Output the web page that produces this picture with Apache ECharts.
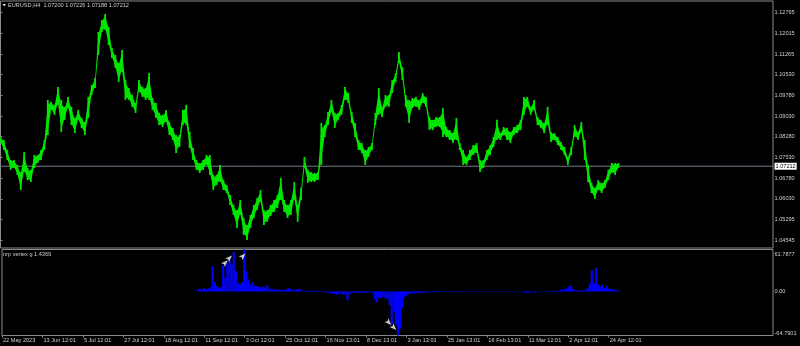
<!DOCTYPE html>
<html><head><meta charset="utf-8">
<script src="https://cdn.jsdelivr.net/npm/echarts@6/dist/echarts.min.js"></script>
<style>html,body{margin:0;padding:0;background:#000}#c{width:800px;height:346px}</style>
</head><body><div id="c"></div>
<script>
// ---------- data ----------
const symbolTitle = 'EURUSD,H4';
const ohlcText = '1.07200 1.07226 1.07188 1.07212';
const indicatorTitle = 'nrp vertex g 1.4369';
const lastPrice = 1.07212;
const priceTicks = [1.12765,1.12015,1.11265,1.10530,1.09780,1.09030,1.08280,1.07530,1.06780,1.06030,1.05295,1.04545];
const timeLabels = ['22 May 2023','13 Jun 12:01','5 Jul 12:01','27 Jul 12:01','18 Aug 12:01','11 Sep 12:01','3 Oct 12:01','25 Oct 12:01','16 Nov 13:01','8 Dec 13:01','3 Jan 13:01','25 Jan 13:01','16 Feb 13:01','11 Mar 12:01','2 Apr 12:01','24 Apr 12:01'];
const barsPerTimeLabel = 96;   // H4 bars between time labels
const priceStep = 8;           // H4 bars per sampled price column
const highs = [
1.0827,1.0816,1.0780,1.0744,1.0744,1.0726,1.0700,1.0773,1.0715,1.0708,
1.0762,1.0762,1.0780,1.0816,1.0961,1.0954,1.0943,1.1008,1.0961,1.0936,
1.0972,1.0936,1.0896,1.0925,1.0896,1.0881,1.0972,1.1015,1.1040,1.1207,
1.1250,1.1272,1.1225,1.1149,1.1124,1.1095,1.1142,1.1033,1.1004,1.0979,
1.0950,1.1033,1.1008,1.1004,1.1058,1.0968,1.0950,1.0914,1.0907,1.0925,
1.0881,1.0860,1.0834,1.0834,1.0925,1.0943,1.0845,1.0787,1.0744,1.0733,
1.0744,1.0762,1.0762,1.0690,1.0690,1.0726,1.0671,1.0653,1.0617,1.0581,
1.0563,1.0599,1.0534,1.0509,1.0545,1.0581,1.0606,1.0635,1.0563,1.0563,
1.0581,1.0599,1.0617,1.0679,1.0599,1.0581,1.0599,1.0664,1.0581,1.0643,
1.0755,1.0708,1.0700,1.0697,1.0700,1.0878,1.0870,1.0917,1.0961,1.0914,
1.0914,1.0943,1.1008,1.0986,1.0917,1.0878,1.0816,1.0805,1.0780,1.0791,
1.0805,1.0914,1.1004,1.0936,1.0979,1.0979,1.1033,1.1058,1.1134,1.1080,
1.0979,1.0961,1.0968,1.0972,1.0961,1.0986,1.0972,1.0899,1.0889,1.0899,
1.0899,1.0932,1.0863,1.0852,1.0841,1.0896,1.0805,1.0780,1.0755,1.0780,
1.0798,1.0805,1.0744,1.0744,1.0780,1.0798,1.0827,1.0889,1.0841,1.0863,
1.0860,1.0845,1.0863,1.0870,1.0889,1.0972,1.0972,1.0936,1.0961,1.0899,
1.0889,1.0878,1.0936,1.0845,1.0841,1.0827,1.0809,1.0791,1.0755,1.0791,
1.0870,1.0845,1.0881,1.0816,1.0726,1.0661,1.0643,1.0671,1.0661,1.0671,
1.0708,1.0733,1.0733,1.0733];
const lows = [
1.0805,1.0780,1.0744,1.0708,1.0715,1.0690,1.0635,1.0700,1.0671,1.0664,
1.0715,1.0733,1.0744,1.0780,1.0834,1.0925,1.0907,1.0943,1.0845,1.0889,
1.0932,1.0870,1.0841,1.0889,1.0860,1.0834,1.0896,1.0979,1.1004,1.1124,
1.1207,1.1214,1.1160,1.1113,1.1077,1.1026,1.1062,1.0961,1.0961,1.0936,
1.0914,1.0990,1.0972,1.0961,1.0961,1.0925,1.0896,1.0870,1.0863,1.0881,
1.0834,1.0816,1.0769,1.0791,1.0870,1.0870,1.0787,1.0744,1.0708,1.0697,
1.0708,1.0726,1.0690,1.0635,1.0653,1.0664,1.0635,1.0624,1.0581,1.0545,
1.0498,1.0545,1.0473,1.0454,1.0498,1.0534,1.0563,1.0592,1.0509,1.0520,
1.0541,1.0556,1.0570,1.0599,1.0556,1.0534,1.0545,1.0599,1.0520,1.0599,
1.0715,1.0661,1.0664,1.0664,1.0671,1.0726,1.0827,1.0870,1.0917,1.0860,
1.0889,1.0907,1.0961,1.0950,1.0878,1.0827,1.0780,1.0769,1.0726,1.0755,
1.0780,1.0870,1.0907,1.0899,1.0936,1.0936,1.0986,1.1026,1.1095,1.1033,
1.0936,1.0878,1.0932,1.0936,1.0925,1.0950,1.0936,1.0852,1.0852,1.0863,
1.0863,1.0827,1.0827,1.0816,1.0805,1.0816,1.0780,1.0726,1.0726,1.0744,
1.0762,1.0769,1.0700,1.0715,1.0744,1.0762,1.0791,1.0816,1.0816,1.0834,
1.0816,1.0805,1.0834,1.0841,1.0852,1.0907,1.0936,1.0907,1.0925,1.0870,
1.0860,1.0841,1.0870,1.0809,1.0816,1.0798,1.0780,1.0762,1.0726,1.0762,
1.0827,1.0816,1.0845,1.0744,1.0664,1.0624,1.0603,1.0635,1.0624,1.0643,
1.0671,1.0697,1.0690,1.0715];
const indStart = 465;   // first bar of the indicator
const indStep = 5;      // bars per indicator sample
const indValues = [
3,4,3,5,3,4,6,37,14,8,
6,6,39,20,41,46,40,58,30,12,
10,14,61.7877,30,18,10,14,8,8,7,
6,7,5,9,4,4,3,3,3,2,
2,2,3,5,4,2,2,3,4,2,
1,1,1,1,1,1,1,1,0.5,0.5,
-1,-1.5,-2,-2,-3,-4,-5,-3,-3,-5,
-4,-13,-4,-2,-2,-2,-1.5,-2,-2,-1.5,
-1.5,-1.5,-1.5,-2,-12,-16,-9,-10,-8,-10,
-11,-20,-48,-30,-50,-64.7901,-55,-25,-9,-6,
-4,-3,-3,-2.5,-2.5,-2,-2,-2,-2,-1.5,
-1,-1,-1,-1,-1,-1,-0.5,-0.5,-0.5,-0.5,
-0.5,-1,-0.5,-0.5,-0.5,-0.5,-0.5,-0.5,-1,-0.5,
-0.5,-0.5,-0.5,-0.5,-0.5,-0.5,-0.5,0.5,0.5,0.5,
0.5,0.5,0.5,0.5,-0.5,0.5,-0.5,-0.5,0.5,0.5,
-0.5,-0.5,0.5,0.5,-0.5,-1.5,-2,-2,-1,-0.5,
-2,-0.5,-0.5,0.5,0.5,0.5,0.5,1,1,1,
1,1,2,3,4,4,7,9,4,2,
1.5,1.5,1.5,1.5,3,5,12,31,12,35,
10,7,10,5,8,4,4,3,2,1.5,
1];
const indMax = 61.7877, indMin = -64.7901;
const indTickLabels = ['61.7877','0.00','-64.7901'];
const signalBars = [536,546,578,924,936];
const signalValues = [46,53,56,-49.3,-56.7];

// ---------- layout / style ----------
const TOTAL_BARS = 1830;
const PRICE_MIN = 1.04255, PRICE_MAX = 1.13188;
const FONT = '"Liberation Sans", Arial, sans-serif';
const TXT = '#cfcfcf';
const BORDER = '#8a8a8a';
const FS = 5.6;
const GREEN = '#00e600';

const priceData = highs.map((h, i) => [i * priceStep, lows[i], h]);
const indData = indValues.map((v, j) => [indStart + j * indStep, v]);
const sigData = signalBars.map((b, k) => ({
  value: [b, signalValues[k]],
  symbolRotate: signalValues[k] > 0 ? -45 : -135
}));
const timeTickVals = timeLabels.map((_, k) => k * barsPerTimeLabel);

const chart = echarts.init(document.getElementById('c'), null, {renderer: 'canvas'});
const indUnitsPerPx = (indMax - indMin) / 86;
const indLabelVals = [indMax - 4.5 * indUnitsPerPx, 0, indMin + 2.5 * indUnitsPerPx];

chart.setOption({
  backgroundColor: '#000',
  animation: false,
  title: [
    {text: symbolTitle + '  ' + ohlcText, left: 8, top: 2, padding: 0,
     textStyle: {color: TXT, fontSize: FS, fontWeight: 'normal', fontFamily: FONT}},
    {text: indicatorTitle, left: 3, top: 251.5, padding: 0,
     textStyle: {color: TXT, fontSize: FS, fontWeight: 'normal', fontFamily: FONT}}
  ],
  graphic: [
    {type: 'polygon', shape: {points: [[2.5, 4], [6, 4], [4.25, 6.5]]}, style: {fill: '#ddd'}}
  ],
  grid: [
    {left: 0.5, top: 1, width: 772.5, height: 247, show: true, borderColor: BORDER, borderWidth: 1, backgroundColor: 'transparent'},
    {left: 0.5, top: 249.5, width: 772.5, height: 86, show: true, borderColor: BORDER, borderWidth: 1, backgroundColor: 'transparent'}
  ],
  xAxis: [
    {type: 'value', gridIndex: 0, min: 0, max: TOTAL_BARS, show: false},
    {type: 'value', gridIndex: 1, min: 0, max: TOTAL_BARS, position: 'bottom',
     axisLine: {show: false, onZero: false}, splitLine: {show: false},
     axisTick: {show: true, customValues: timeTickVals, length: 2, lineStyle: {color: BORDER}},
     axisLabel: {customValues: timeTickVals, formatter: v => timeLabels[Math.round(v / barsPerTimeLabel)],
       align: 'left', margin: 2, color: TXT, fontSize: FS, fontFamily: FONT, padding: [0, 0, 0, 1]}}
  ],
  yAxis: [
    {type: 'value', gridIndex: 0, position: 'right', min: PRICE_MIN, max: PRICE_MAX,
     axisLine: {show: false}, splitLine: {show: false},
     axisTick: {show: true, customValues: priceTicks, length: 2, lineStyle: {color: BORDER}},
     axisLabel: {customValues: priceTicks, formatter: v => v.toFixed(5), margin: 1.5,
       color: TXT, fontSize: FS, fontFamily: FONT}},
    {type: 'value', gridIndex: 1, position: 'right', min: indMin, max: indMax,
     axisLine: {show: false}, splitLine: {show: false}, axisTick: {show: false},
     axisLabel: {customValues: indLabelVals, formatter: (v) => indTickLabels[indLabelVals.indexOf(v)] || '',
       margin: 1.5, color: TXT, fontSize: FS, fontFamily: FONT}}
  ],
  series: [
    {type: 'line', xAxisIndex: 0, yAxisIndex: 0, silent: true, showSymbol: false, z: 1,
     data: [[0, lastPrice], [TOTAL_BARS, lastPrice]],
     lineStyle: {color: '#6f7a88', width: 1},
     endLabel: {show: true, distance: 1.5, formatter: () => lastPrice.toFixed(5),
       color: '#000', backgroundColor: '#fff', padding: [0.5, 1], fontSize: FS, fontFamily: FONT}},
    {type: 'custom', xAxisIndex: 0, yAxisIndex: 0, data: priceData, clip: true, z: 2,
     renderItem: function (params, api) {
       const i = params.dataIndex;
       const x = api.value(0), lo = api.value(1), hi = api.value(2);
       const pHi = api.coord([x, hi]);
       const pLo = api.coord([x, lo]);
       const children = [{type: 'rect',
         shape: {x: pHi[0] - 0.9, y: pHi[1], width: 1.8, height: Math.max(1, pLo[1] - pHi[1])},
         style: {fill: GREEN}}];
       const nxt = priceData[i + 1];
       if (nxt) {
         const qHi = api.coord([nxt[0], nxt[2]]);
         const qLo = api.coord([nxt[0], nxt[1]]);
         const s = 0.12;
         children.push({type: 'polygon',
           shape: {points: [[pHi[0], pHi[1] + (pLo[1] - pHi[1]) * s], [qHi[0], qHi[1] + (qLo[1] - qHi[1]) * s],
                            [qLo[0], qLo[1] - (qLo[1] - qHi[1]) * s], [pLo[0], pLo[1] - (pLo[1] - pHi[1]) * s]]},
           style: {fill: GREEN}});
       }
       return {type: 'group', children: children};
     }
    },
    {type: 'bar', xAxisIndex: 1, yAxisIndex: 1, data: indData, barWidth: 2.2,
     itemStyle: {color: '#0000ff'}},
    {type: 'scatter', xAxisIndex: 1, yAxisIndex: 1, data: sigData, symbol: 'arrow',
     symbolSize: [4, 7], itemStyle: {color: '#fff'}, z: 5}
  ]
});
</script>
</body></html>
